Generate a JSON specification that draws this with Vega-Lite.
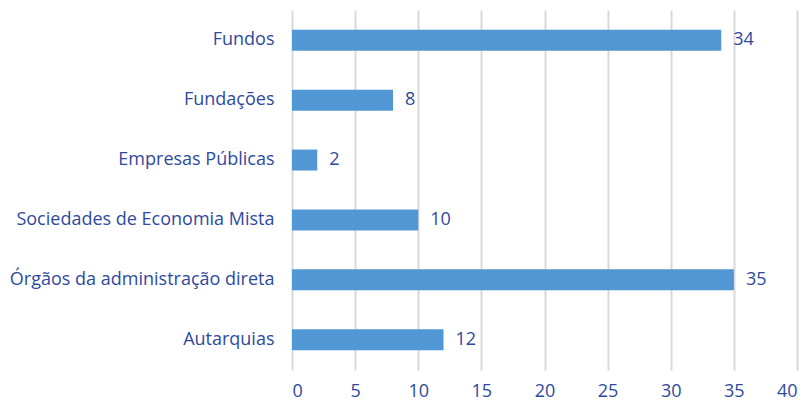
{
  "$schema": "https://vega.github.io/schema/vega-lite/v6.json",
  "width": 505,
  "height": 360,
  "autosize": {"type": "none"},
  "padding": {"left": 292, "top": 10, "right": 13, "bottom": 34},
  "background": "white",
  "config": {"view": {"stroke": null}, "font": "Open Sans"},
  "data": {"values": [
    {"categoria": "Fundos", "valor": 34},
    {"categoria": "Fundações", "valor": 8},
    {"categoria": "Empresas Públicas", "valor": 2},
    {"categoria": "Sociedades de Economia Mista", "valor": 10},
    {"categoria": "Órgãos da administração direta", "valor": 35},
    {"categoria": "Autarquias", "valor": 12}
  ]},
  "encoding": {
    "y": {"field": "categoria", "type": "nominal", "sort": null,
      "scale": {"paddingInner": 0.65, "paddingOuter": 0.33},
      "axis": {"title": null, "domain": false, "ticks": false, "labelFontSize": 18, "labelColor": "#2E4A9E", "labelPadding": 18, "labelFont": "Open Sans", "labelLimit": 300}},
    "x": {"field": "valor", "type": "quantitative",
      "scale": {"domain": [0, 40], "nice": false},
      "axis": {"title": null, "values": [0,5,10,15,20,25,30,35,40], "domain": false, "ticks": false, "grid": true, "gridColor": "#D9D9D9", "gridWidth": 2, "labelFontSize": 18, "labelColor": "#2E4A9E", "labelPadding": 12, "labelFont": "Open Sans"}}
  },
  "layer": [
    {"mark": {"type": "bar", "color": "#5097D3"}},
    {"mark": {"type": "text", "align": "left", "dx": 12, "fontSize": 18, "color": "#2E4A9E", "font": "Open Sans"},
     "encoding": {"text": {"field": "valor", "type": "quantitative"}}}
  ]
}
